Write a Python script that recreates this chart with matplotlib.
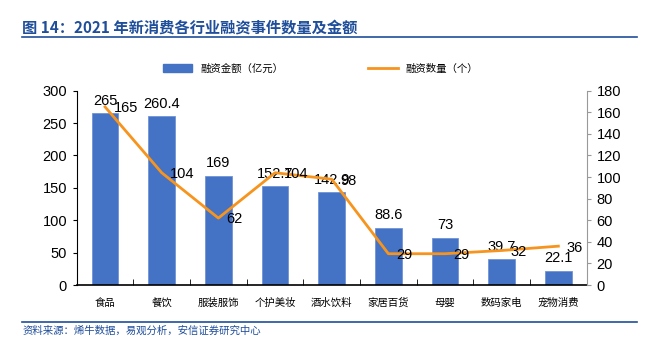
import matplotlib.pyplot as plt
import numpy as np
from matplotlib.lines import Line2D
from matplotlib.patches import Patch

plt.rcParams['font.family'] = ['Liberation Sans', 'Noto Sans CJK SC', 'DejaVu Sans']

categories = ["食品", "餐饮", "服装服饰", "个护美妆", "酒水饮料", "家居百货", "母婴", "数码家电", "宠物消费"]
amount = [265, 260.4, 169, 152.7, 142.9, 88.6, 73, 39.7, 22.1]
count = [165, 104, 62, 104, 98, 29, 29, 32, 36]
amount_labels = ["265", "260.4", "169", "152.7", "142.9", "88.6", "73", "39.7", "22.1"]

BLUE = "#4472C4"
ORANGE = "#F7941D"
NAVY = "#1F4E9A"
CJK = ['Noto Sans CJK SC', 'DejaVu Sans']

fig = plt.figure(figsize=(6.48, 3.43), dpi=100)
ax = fig.add_axes([0.1184, 0.169, 0.7870, 0.5666])
ax2 = ax.twinx()

x = np.arange(len(categories))
ax.bar(x, amount, width=0.47, color=BLUE, edgecolor="#6f93d6", linewidth=0.6, zorder=2)
ax2.plot(x, count, color=ORANGE, linewidth=2, zorder=3)

ax.set_xlim(-0.5, len(categories) - 0.5)
ax.set_ylim(0, 300)
ax.set_yticks(range(0, 301, 50))
ax2.set_ylim(0, 180)
ax2.set_yticks(range(0, 181, 20))

# value labels (they overlap in a few places, same as the original)
for xi, v, s in zip(x, amount, amount_labels):
    ax.annotate(s, (xi, v), xytext=(0, 4), textcoords="offset points",
                ha="center", va="bottom", fontsize=10.5, color="black", zorder=5)
for xi, v in zip(x, count):
    ax2.annotate(str(v), (xi, v), xytext=(6, -1), textcoords="offset points",
                 ha="left", va="center", fontsize=10.5, color="black", zorder=5)

# category ticks between bars, pointing inward
ax.set_xticks(x)
ax.set_xticklabels(categories, family=CJK, fontsize=7.5)
ax.tick_params(axis="x", length=0, pad=9)
ax.set_xticks(np.arange(-0.5, len(categories), 1), minor=True)
ax.tick_params(axis="x", which="minor", direction="in", length=4, color="black")

ax.tick_params(axis="y", labelsize=10.5, length=3, direction="out", pad=4)
ax2.tick_params(axis="y", labelsize=10.5, length=3, direction="out", color="#999999", pad=4)

ax.spines["top"].set_visible(False)
ax2.spines["top"].set_visible(False)
ax.spines["right"].set_visible(False)
ax2.spines["left"].set_visible(False)
ax2.spines["bottom"].set_visible(False)
ax2.spines["right"].set_color("#999999")
ax.spines["bottom"].set_linewidth(1.2)

leg1 = fig.legend([Patch(facecolor=BLUE, edgecolor=BLUE)], ["融资金额（亿元）"],
                  loc="center left", bbox_to_anchor=(0.245, 0.8), frameon=False,
                  prop={"family": CJK, "size": 7.5}, handlelength=2.8, borderaxespad=0)
fig.legend([Line2D([0], [0], color=ORANGE, linewidth=2)], ["融资数量（个）"],
           loc="center left", bbox_to_anchor=(0.562, 0.8), frameon=False,
           prop={"family": CJK, "size": 7.5}, handlelength=2.8, borderaxespad=0)

fig.text(0.034, 0.92, "图 14：2021 年新消费各行业融资事件数量及金额", family=CJK,
         fontsize=11, fontweight="bold", color=NAVY, ha="left", va="center")
fig.add_artist(Line2D([0.034, 0.983], [0.893, 0.893], color=NAVY, linewidth=1.2))
fig.add_artist(Line2D([0.034, 0.983], [0.061, 0.061], color=NAVY, linewidth=1.2))
fig.text(0.034, 0.035, "资料来源：烯牛数据，易观分析，安信证券研究中心", family=CJK,
         fontsize=7.5, style="italic", color=NAVY, ha="left", va="center")

fig.savefig("out.png", dpi=100)
